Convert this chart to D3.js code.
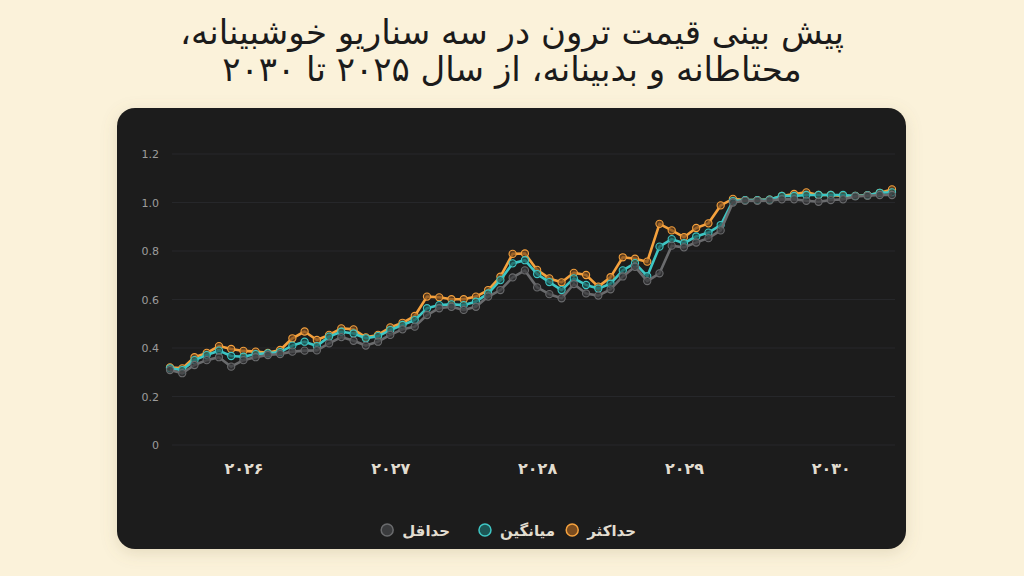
<!DOCTYPE html>
<html>
<head>
<meta charset="utf-8">
<script src="https://cdn.jsdelivr.net/npm/d3@7"></script>
<style>
  html, body { margin: 0; padding: 0; background: #fbf2da; }
  svg { display: block; }
</style>
</head>
<body>
<svg id="chart" width="1024" height="576"></svg>
<script>
// monthly points, Jul 2025 .. Jun 2030
const months = d3.range(60).map(i => d3.timeFormat('%Y-%m')(d3.timeMonth.offset(new Date(2025, 6, 1), i)));

const maxPrice = [0.320, 0.316, 0.362, 0.380, 0.408, 0.396, 0.388, 0.385, 0.380, 0.392,
  0.440, 0.468, 0.433, 0.454, 0.481, 0.477, 0.444, 0.454, 0.485, 0.504,
  0.532, 0.612, 0.609, 0.601, 0.601, 0.612, 0.639, 0.694, 0.788, 0.790,
  0.722, 0.687, 0.671, 0.710, 0.701, 0.653, 0.692, 0.774, 0.768, 0.756,
  0.912, 0.885, 0.857, 0.895, 0.914, 0.988, 1.015, 1.010, 1.010, 1.012,
  1.027, 1.035, 1.042, 1.031, 1.031, 1.027, 1.027, 1.030, 1.040, 1.054];

const avgPrice = [0.316, 0.309, 0.350, 0.371, 0.389, 0.367, 0.364, 0.375, 0.378, 0.383,
  0.410, 0.426, 0.408, 0.447, 0.467, 0.460, 0.440, 0.449, 0.474, 0.495,
  0.515, 0.564, 0.577, 0.580, 0.577, 0.591, 0.625, 0.680, 0.749, 0.762,
  0.705, 0.672, 0.639, 0.687, 0.660, 0.645, 0.665, 0.720, 0.750, 0.696,
  0.818, 0.849, 0.832, 0.860, 0.876, 0.907, 1.006, 1.010, 1.010, 1.012,
  1.027, 1.027, 1.031, 1.031, 1.031, 1.031, 1.027, 1.030, 1.040, 1.042];

const minPrice = [0.309, 0.296, 0.330, 0.350, 0.362, 0.323, 0.350, 0.362, 0.371, 0.375,
  0.385, 0.389, 0.390, 0.419, 0.445, 0.430, 0.410, 0.426, 0.454, 0.477,
  0.488, 0.536, 0.564, 0.570, 0.557, 0.570, 0.612, 0.639, 0.691, 0.720,
  0.650, 0.622, 0.605, 0.664, 0.625, 0.616, 0.642, 0.695, 0.735, 0.676,
  0.708, 0.822, 0.815, 0.835, 0.853, 0.885, 1.000, 1.007, 1.007, 1.008,
  1.013, 1.013, 1.007, 1.003, 1.010, 1.013, 1.025, 1.028, 1.031, 1.031];

const seriesNames = ['حداکثر', 'میانگین', 'حداقل'];
const seriesColors = ['#f5a13d', '#3ec6c4', '#6a6b6d'];
const seriesFills = ['#7a4c1f', '#1d5554', '#3a3b3d'];

const yTicks = [0, 0.2, 0.4, 0.6, 0.8, 1.0, 1.2];
const xTickMonths = ['2026-01', '2027-01', '2028-01', '2029-01', '2030-01'];
const xTickLabels = ['۲۰۲۶', '۲۰۲۷', '۲۰۲۸', '۲۰۲۹', '۲۰۳۰'];

const titleLines = ['پیش بینی قیمت ترون در سه سناریو خوشبینانه،', 'محتاطانه و بدبینانه، از سال ۲۰۲۵ تا ۲۰۳۰'];

const svg = d3.select('#chart');
const FONT = '"DejaVu Sans", sans-serif';

// soft shadow under the card
const defs = svg.append('defs');
const f = defs.append('filter').attr('id', 'shadow').attr('x', '-10%').attr('y', '-10%').attr('width', '120%').attr('height', '130%');
f.append('feDropShadow').attr('dx', 0).attr('dy', 4).attr('stdDeviation', 8).attr('flood-color', '#8a7a50').attr('flood-opacity', 0.2);

// title
svg.selectAll('.title')
  .data(titleLines)
  .enter().append('text')
    .attr('class', 'title')
    .attr('x', 512)
    .attr('y', (d, i) => 44 + i * 37)
    .attr('text-anchor', 'middle')
    .attr('direction', 'rtl')
    .attr('font-family', FONT)
    .attr('font-size', 34)
    .attr('fill', '#1b1b1b')
    .text(d => d);

// card
svg.append('rect')
  .attr('x', 117).attr('y', 108)
  .attr('width', 789).attr('height', 441)
  .attr('rx', 18)
  .attr('fill', '#1b1c1e')
  .attr('filter', 'url(#shadow)');

const x = d3.scalePoint().domain(months).range([170, 892]);
const y = d3.scaleLinear().domain([0, 1.2]).range([445, 154]);

// grid + y labels
svg.append('g')
  .selectAll('line')
  .data(yTicks)
  .enter().append('line')
    .attr('x1', 172).attr('x2', 895)
    .attr('y1', d => y(d)).attr('y2', d => y(d))
    .attr('stroke', '#26272a')
    .attr('stroke-width', 1);

const yAxis = svg.append('g')
  .attr('transform', 'translate(159,0)')
  .call(d3.axisLeft(y).tickValues(yTicks).tickSize(0).tickPadding(0)
    .tickFormat(d => d === 0 ? '0' : d3.format('.1f')(d)));
yAxis.select('.domain').remove();
yAxis.selectAll('text')
  .attr('font-family', FONT)
  .attr('font-size', 11)
  .attr('fill', '#9c9c9c');

// x labels
const xAxis = svg.append('g')
  .attr('transform', 'translate(0,463)')
  .call(d3.axisBottom(x).tickValues(xTickMonths).tickSize(0).tickPadding(0)
    .tickFormat((d, i) => xTickLabels[i]));
xAxis.select('.domain').remove();
xAxis.selectAll('text')
  .attr('font-family', FONT)
  .attr('font-size', 16)
  .attr('font-weight', 'bold')
  .attr('fill', '#e2ddd0');

// lines - min drawn last, sits on top
const series = [maxPrice, avgPrice, minPrice];
const line = d3.line().x((d, i) => x(months[i])).y(d => y(d));

series.forEach((vals, s) => {
  const g = svg.append('g');
  g.append('path')
    .datum(vals)
    .attr('d', line)
    .attr('fill', 'none')
    .attr('stroke', seriesColors[s])
    .attr('stroke-width', 2.6)
    .attr('stroke-linejoin', 'round');
  g.selectAll('circle')
    .data(vals)
    .enter().append('circle')
      .attr('cx', (d, i) => x(months[i]))
      .attr('cy', d => y(d))
      .attr('r', 3.6)
      .attr('fill', seriesFills[s])
      .attr('fill-opacity', 0.7)
      .attr('stroke', seriesColors[s])
      .attr('stroke-width', 1.1);
});

// legend (rtl: first item on the right)
const legendTextRight = [636, 555, 450];
const legend = svg.append('g');
seriesNames.forEach((name, s) => {
  const t = legend.append('text')
    .attr('x', legendTextRight[s])
    .attr('y', 536)
    .attr('text-anchor', 'start')
    .attr('direction', 'rtl')
    .attr('font-family', FONT)
    .attr('font-size', 15)
    .attr('font-weight', 'bold')
    .attr('fill', '#e2ddd0')
    .text(name);
  const w = t.node().getComputedTextLength();
  legend.append('circle')
    .attr('cx', legendTextRight[s] - w - 15)
    .attr('cy', 530)
    .attr('r', 6)
    .attr('fill', seriesFills[s])
    .attr('stroke', seriesColors[s])
    .attr('stroke-width', 1.5);
});
</script>
</body>
</html>
